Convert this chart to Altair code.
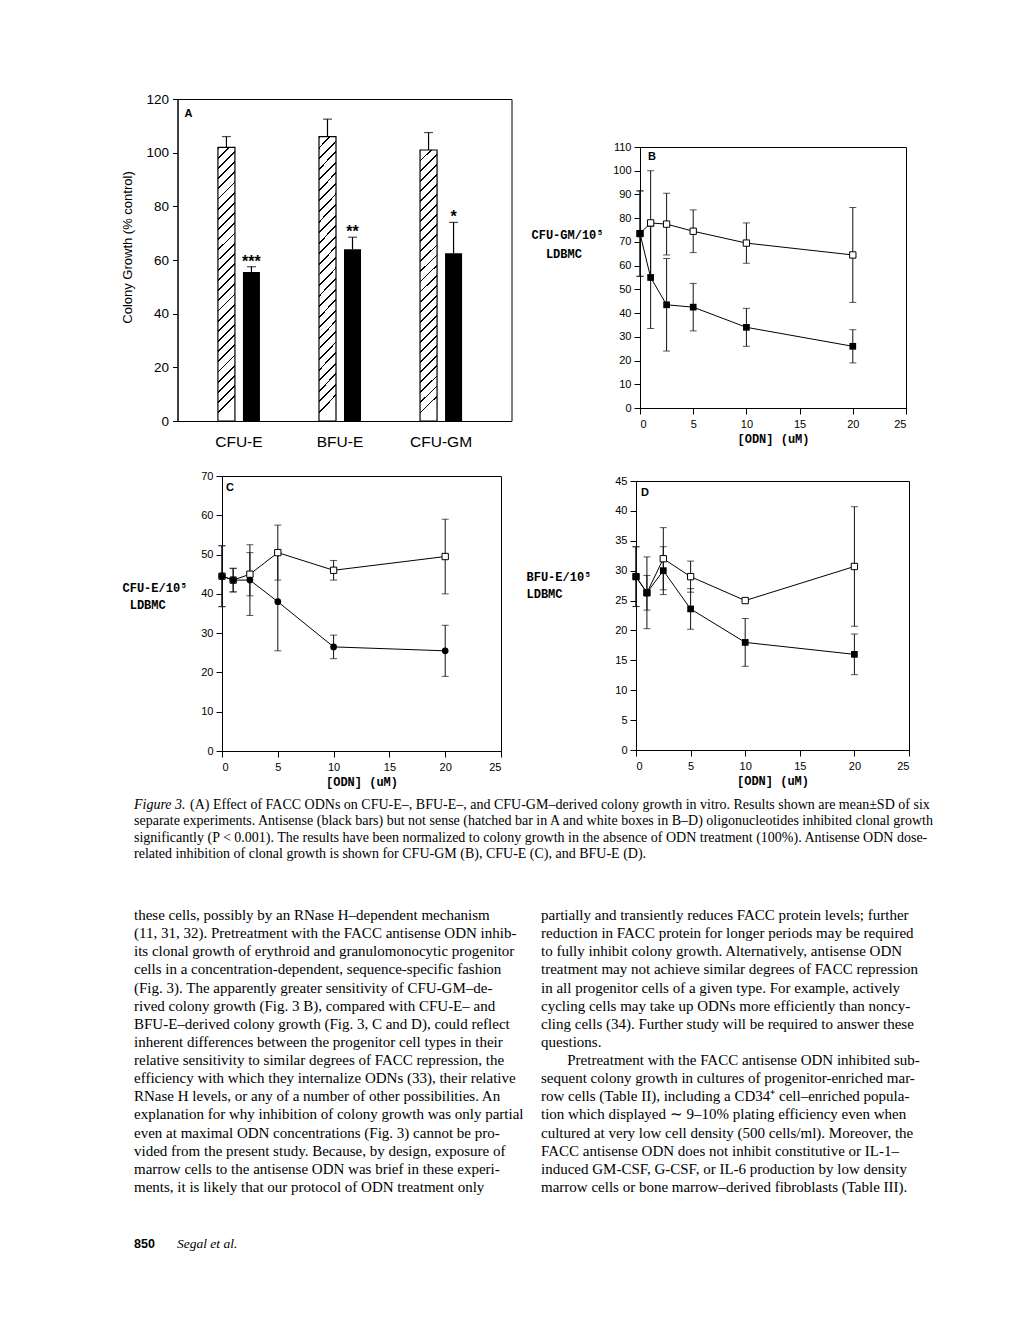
import altair as alt
import pandas as pd

SANS = "Liberation Sans"
SERIF = "Liberation Serif"
MONO = "Liberation Mono"
ZW = "\u200b"
NB = "\u00a0"

# ---------------- data ----------------
A_cats = ["CFU-E", "BFU-E", "CFU-GM"]
A_sense = [102, 106, 101]
A_sense_sd = [4, 6.5, 6.5]
A_anti = [55.5, 64, 62.5]
A_anti_sd = [2, 4.5, 11.5]
A_stars = ["***", "**", "*"]

ODN = [0, 1, 2.5, 5, 10, 20]

B_sense = [73.5, 78, 77.5, 74.5, 69.5, 64.5]
B_sense_sd = [18, 22, 13, 9, 8.5, 20]
B_anti = [73.5, 55, 43.5, 42.5, 34, 26]
B_anti_sd = [18, 21.5, 19.5, 10, 8, 7]

C_sense = [44.5, 43.5, 45, 50.5, 46, 49.5]
C_sense_sd = [7.75, 3, 5.5, 7, 2.5, 9.5]
C_anti = [44.5, 43.5, 43.5, 38, 26.5, 25.5]
C_anti_sd = [7.75, 3, 9, 12.5, 3, 6.5]

D_sense = [29, 26.3, 32, 29, 25, 30.7]
D_sense_sd = [5, 2.9, 5.2, 2.6, 0, 10]
D_anti = [29, 26.3, 30, 23.6, 18, 16]
D_anti_sd = [5, 6, 4, 3.4, 4, 3.4]

panel_letters = ["A", "B", "C", "D"]
x_title = "[ODN] (uM)"
B_ytitle = ["CFU-GM/10\u2075", ZW + NB * 2 + "LDBMC"]
C_ytitle = ["CFU-E/10\u2075", ZW + NB + "LDBMC"]
D_ytitle = ["BFU-E/10\u2075", "LDBMC"]

caption_head = "Figure 3."
caption_first = "(A) Effect of FACC ODNs on CFU-E\u2013, BFU-E\u2013, and CFU-GM\u2013derived colony growth in vitro. Results shown are mean\u00b1SD of six"
caption_rest = [
    "separate experiments. Antisense (black bars) but not sense (hatched bar in A and white boxes in B\u2013D) oligonucleotides inhibited clonal growth",
    "significantly (P < 0.001). The results have been normalized to colony growth in the absence of ODN treatment (100%). Antisense ODN dose-",
    "related inhibition of clonal growth is shown for CFU-GM (B), CFU-E (C), and BFU-E (D).",
]
body_left = [
    "these cells, possibly by an RNase H\u2013dependent mechanism",
    "(11, 31, 32). Pretreatment with the FACC antisense ODN inhib-",
    "its clonal growth of erythroid and granulomonocytic progenitor",
    "cells in a concentration-dependent, sequence-specific fashion",
    "(Fig. 3). The apparently greater sensitivity of CFU-GM\u2013de-",
    "rived colony growth (Fig. 3 B), compared with CFU-E\u2013 and",
    "BFU-E\u2013derived colony growth (Fig. 3, C and D), could reflect",
    "inherent differences between the progenitor cell types in their",
    "relative sensitivity to similar degrees of FACC repression, the",
    "efficiency with which they internalize ODNs (33), their relative",
    "RNase H levels, or any of a number of other possibilities. An",
    "explanation for why inhibition of colony growth was only partial",
    "even at maximal ODN concentrations (Fig. 3) cannot be pro-",
    "vided from the present study. Because, by design, exposure of",
    "marrow cells to the antisense ODN was brief in these experi-",
    "ments, it is likely that our protocol of ODN treatment only",
]
body_right = [
    "partially and transiently reduces FACC protein levels; further",
    "reduction in FACC protein for longer periods may be required",
    "to fully inhibit colony growth. Alternatively, antisense ODN",
    "treatment may not achieve similar degrees of FACC repression",
    "in all progenitor cells of a given type. For example, actively",
    "cycling cells may take up ODNs more efficiently than noncy-",
    "cling cells (34). Further study will be required to answer these",
    "questions.",
    ZW + NB * 7 + "Pretreatment with the FACC antisense ODN inhibited sub-",
    "sequent colony growth in cultures of progenitor-enriched mar-",
    "row cells (Table II), including a CD34\u207a cell\u2013enriched popula-",
    "tion which displayed \u223c 9\u201310% plating efficiency even when",
    "cultured at very low cell density (500 cells/ml). Moreover, the",
    "FACC antisense ODN does not inhibit constitutive or IL-1\u2013",
    "induced GM-CSF, G-CSF, or IL-6 production by low density",
    "marrow cells or bone marrow\u2013derived fibroblasts (Table III).",
]
footer_page = "850"
footer_authors = "Segal et al."

# ---------------- style helpers ----------------
N_HATCH = 27
hatch_stops = []
for i in range(N_HATCH):
    s = i / N_HATCH
    e = (i + 1) / N_HATCH
    m = s + (e - s) * 0.18
    hatch_stops += [
        {"offset": s, "color": "black"},
        {"offset": m, "color": "black"},
        {"offset": m, "color": "white"},
        {"offset": e, "color": "white"},
    ]
HATCH = {"gradient": "linear", "x1": 0, "y1": 0, "x2": 0.062, "y2": 1, "stops": hatch_stops}


def letter_layer(letter, x, y):
    return alt.Chart(pd.DataFrame({"t": [letter]})).mark_text(
        align="left", baseline="middle", font=SANS, fontSize=11, fontWeight="bold", color="black"
    ).encode(x=alt.value(x), y=alt.value(y), text="t:N")


# ---------------- panel A ----------------
dfA = pd.DataFrame({
    "cat": A_cats * 2,
    "series": ["sense"] * 3 + ["antisense"] * 3,
    "value": A_sense + A_anti,
    "sd": A_sense_sd + A_anti_sd,
    "star": [""] * 3 + A_stars,
})
dfA["hi"] = dfA["value"] + dfA["sd"]

xA = alt.X("cat:N", sort=A_cats,
           scale=alt.Scale(paddingInner=0.505, paddingOuter=0.405, align=0.445),
           axis=alt.Axis(title=None, labelAngle=0, ticks=False, tickSize=0, domain=False,
                         labelPadding=13, labelFontSize=15.5, labelFont=SANS))
xoA = alt.XOffset("series:N", sort=["sense", "antisense"],
                  scale=alt.Scale(paddingInner=0.32, paddingOuter=0.16))
yA_scale = alt.Scale(domain=[0, 120], nice=False)
yA_axis = alt.Axis(values=[0, 20, 40, 60, 80, 100, 120], tickSize=5, labelPadding=4,
                   labelFontSize=13.5, labelFont=SANS, grid=False,
                   title="Colony Growth (% control)", titleFont=SANS, titleFontSize=13,
                   titleFontWeight="normal", titleAngle=270, titleX=-50, titleY=148,
                   titleAlign="center", titleBaseline="middle")

baseA = alt.Chart(dfA)
A_sense_bars = baseA.transform_filter("datum.series == 'sense'").mark_bar(
    fill=HATCH, stroke="black", strokeWidth=1.2
).encode(x=xA, xOffset=xoA, y=alt.Y("value:Q", scale=yA_scale, axis=yA_axis))
A_anti_bars = baseA.transform_filter("datum.series == 'antisense'").mark_bar(
    color="black"
).encode(x=xA, xOffset=xoA, y=alt.Y("value:Q", scale=yA_scale, axis=yA_axis))
A_err = baseA.mark_rule(color="black", strokeWidth=1.2).encode(
    x=xA, xOffset=xoA, y=alt.Y("value:Q", scale=yA_scale, axis=yA_axis), y2="hi:Q")
A_caps = baseA.mark_tick(orient="horizontal", size=9, thickness=1.2, color="black").encode(
    x=xA, xOffset=xoA, y=alt.Y("hi:Q", scale=yA_scale, axis=yA_axis))
A_star = baseA.transform_filter("datum.star != ''").mark_text(
    baseline="alphabetic", dy=0, font=SANS, fontSize=16, fontWeight="bold", color="black"
).encode(x=xA, xOffset=xoA, y=alt.Y("hi:Q", scale=yA_scale, axis=yA_axis), text="star:N")

panelA = alt.layer(A_sense_bars, A_anti_bars, A_err, A_caps, A_star,
                   letter_layer(panel_letters[0], 7, 15)).properties(width=334, height=322)


# ---------------- dose panels ----------------
def dose_panel(letter, lpos, sense, sense_sd, anti, anti_sd, ymax, ystep, w, h,
               ytitle, tx, ty, tlh, anti_shape):
    df = pd.DataFrame({
        "x": ODN * 2,
        "series": ["sense"] * len(ODN) + ["antisense"] * len(ODN),
        "value": sense + anti,
        "sd": sense_sd + anti_sd,
    })
    df["lo"] = df["value"] - df["sd"]
    df["hi"] = df["value"] + df["sd"]

    x = alt.X("x:Q", scale=alt.Scale(domain=[0, 25], nice=False),
              axis=alt.Axis(values=[0, 5, 10, 15, 20, 25], tickSize=6, labelPadding=4.5,
                            labelFontSize=11, labelFont=SANS, grid=False,
                            title=x_title, titleFont=MONO, titleFontSize=12,
                            titleFontWeight="bold", titlePadding=3.5))
    ysc = alt.Scale(domain=[0, ymax], nice=False)
    yax = alt.Axis(values=list(range(0, ymax + 1, ystep)), tickSize=6, labelPadding=3,
                   labelFontSize=11, labelFont=SANS, grid=False,
                   title=ytitle, titleFont=MONO, titleFontSize=12, titleFontWeight="bold",
                   titleAngle=0, titleAlign="left", titleBaseline="alphabetic",
                   titleX=tx, titleY=ty, titleLineHeight=tlh)
    base = alt.Chart(df)
    lines = base.mark_line(color="black", strokeWidth=1).encode(
        x=x, y=alt.Y("value:Q", scale=ysc, axis=yax), detail="series:N")
    errs = base.transform_filter("datum.sd > 0")
    rules = errs.mark_rule(color="#111", strokeWidth=1).encode(
        x=x, y=alt.Y("lo:Q", scale=ysc, axis=yax), y2="hi:Q")
    cap_lo = errs.mark_tick(orient="horizontal", size=7, thickness=1, color="#111").encode(
        x=x, y=alt.Y("lo:Q", scale=ysc, axis=yax))
    cap_hi = errs.mark_tick(orient="horizontal", size=7, thickness=1, color="#111").encode(
        x=x, y=alt.Y("hi:Q", scale=ysc, axis=yax))
    pts_s = base.transform_filter("datum.series == 'sense'").mark_point(
        shape="square", filled=True, fill="white", stroke="black", strokeWidth=1, size=40, opacity=1
    ).encode(x=x, y=alt.Y("value:Q", scale=ysc, axis=yax))
    pts_a = base.transform_filter("datum.series == 'antisense'").mark_point(
        shape=anti_shape, filled=True, color="black", size=45, opacity=1
    ).encode(x=x, y=alt.Y("value:Q", scale=ysc, axis=yax))
    return alt.layer(lines, rules, cap_lo, cap_hi, pts_s, pts_a,
                     letter_layer(letter, lpos[0], lpos[1])).properties(width=w, height=h)


panelB = dose_panel(panel_letters[1], (8, 10), B_sense, B_sense_sd, B_anti, B_anti_sd,
                    110, 10, 266, 261, B_ytitle, -109, 91, 19, "square")
panelC = dose_panel(panel_letters[2], (4, 12), C_sense, C_sense_sd, C_anti, C_anti_sd,
                    70, 10, 279, 275, C_ytitle, -100, 115, 17, "circle")
panelD = dose_panel(panel_letters[3], (5, 12), D_sense, D_sense_sd, D_anti, D_anti_sd,
                    45, 5, 273, 269, D_ytitle, -110, 99, 17, "square")


def spacer(w, h):
    return alt.Chart(pd.DataFrame({"t": [""]})).mark_text(fontSize=1).encode(
        x=alt.value(0), y=alt.value(0), text="t:N"
    ).properties(width=w, height=h, view=alt.ViewBackground(stroke="transparent"))


row1 = alt.hconcat(
    spacer(6.5, 1), panelA,
    alt.vconcat(spacer(1, 40.5), panelB, spacing=0),
    spacing=17.5,
)
row2 = alt.hconcat(
    spacer(1, 1),
    alt.vconcat(spacer(1, 1), panelC, spacing=0),
    alt.vconcat(spacer(1, 6), panelD, spacing=0),
    spacing=23,
)


# ---------------- text block ----------------
def text_layer(txt, x, y, size, lh, font=SERIF, style="normal", weight="normal"):
    return alt.Chart(pd.DataFrame({"t": [txt]})).mark_text(
        align="left", baseline="alphabetic", lineBreak="\n", lineHeight=lh,
        font=font, fontSize=size, fontStyle=style, fontWeight=weight, color="black"
    ).encode(x=alt.value(x), y=alt.value(y), text="t:N")


TX = 38
text_chart = alt.layer(
    text_layer(caption_head, TX, 11, 14, 16.5, style="italic"),
    text_layer(caption_first, TX + 56, 11, 14, 16.5),
    text_layer("\n".join(caption_rest), TX, 27.5, 14, 16.5),
    text_layer("\n".join(body_left), TX, 122.5, 15, 18.13),
    text_layer("\n".join(body_right), TX + 407, 122.5, 15, 18.13),
    text_layer(footer_page, TX, 450, 12.5, 14, font=SANS, weight="bold"),
    text_layer(footer_authors, TX + 43, 450, 13.5, 14, style="italic"),
).properties(width=860, height=460, view=alt.ViewBackground(stroke="transparent"))

chart = alt.vconcat(
    alt.vconcat(row1, row2, spacing=15),
    text_chart,
    spacing=8.5,
).properties(
    padding={"left": 87, "top": 83, "right": 5, "bottom": 5},
    background="white",
).configure_view(stroke="black", strokeWidth=1).configure_axis(
    labelColor="black", domainColor="black", tickColor="black", titleColor="black"
)

chart.save("out.html", embed_options={"renderer": "svg", "actions": False})
